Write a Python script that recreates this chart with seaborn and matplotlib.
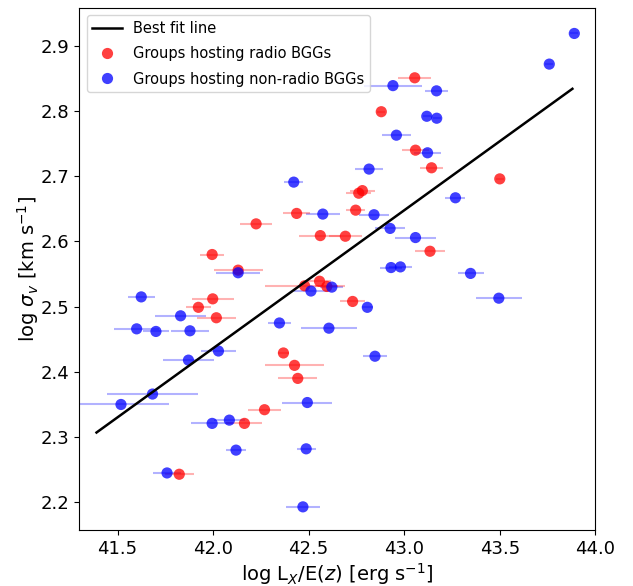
import numpy as np
import pandas as pd
import matplotlib
matplotlib.use("Agg")
import matplotlib.pyplot as plt
import seaborn as sns

# Groups hosting radio BGGs
radio_lx = [43.055, 42.880, 43.059, 43.143, 43.500, 42.781, 42.762, 42.746,
            42.437, 42.225, 42.561, 42.692, 43.135, 41.995, 42.131, 42.557,
            42.595, 42.479, 41.998, 42.730, 41.923, 42.017, 42.368, 42.426,
            42.443, 42.269, 42.164, 41.823]
radio_sig = [2.851, 2.799, 2.740, 2.713, 2.696, 2.678, 2.674, 2.648,
             2.643, 2.627, 2.609, 2.608, 2.585, 2.580, 2.556, 2.539,
             2.531, 2.532, 2.512, 2.508, 2.499, 2.483, 2.429, 2.410,
             2.390, 2.342, 2.321, 2.243]
radio_err = [0.087, 0.02, 0.070, 0.060, 0.02, 0.065, 0.065, 0.050,
             0.070, 0.082, 0.110, 0.087, 0.079, 0.061, 0.128, 0.06,
             0.06, 0.210, 0.110, 0.064, 0.067, 0.103, 0.030, 0.155,
             0.103, 0.084, 0.094, 0.075]

# Groups hosting non-radio BGGs
nonradio_lx = [43.890, 43.759, 42.941, 43.169, 43.118, 43.170, 42.959, 43.122,
               42.816, 42.422, 43.268, 42.574, 42.842, 42.926, 43.059, 42.931,
               42.980, 42.131, 43.347, 42.621, 42.512, 41.624, 43.495, 42.807,
               41.830, 42.347, 41.600, 42.606, 41.879, 41.701, 42.028, 42.847,
               41.871, 41.683, 42.493, 41.518, 42.085, 41.995, 42.120, 42.487,
               41.759, 42.470]
nonradio_sig = [2.919, 2.872, 2.839, 2.831, 2.792, 2.789, 2.763, 2.736,
                2.711, 2.691, 2.667, 2.642, 2.641, 2.620, 2.606, 2.560,
                2.561, 2.552, 2.551, 2.530, 2.524, 2.515, 2.513, 2.499,
                2.486, 2.475, 2.466, 2.467, 2.463, 2.462, 2.432, 2.424,
                2.418, 2.366, 2.353, 2.350, 2.326, 2.321, 2.280, 2.282,
                2.245, 2.193]
nonradio_err = [0.02, 0.02, 0.152, 0.058, 0.02, 0.02, 0.075, 0.073,
                0.074, 0.050, 0.052, 0.090, 0.080, 0.080, 0.107, 0.06,
                0.06, 0.114, 0.068, 0.06, 0.090, 0.070, 0.122, 0.030,
                0.135, 0.060, 0.117, 0.147, 0.100, 0.070, 0.093, 0.063,
                0.135, 0.236, 0.130, 0.250, 0.08, 0.110, 0.050, 0.050,
                0.075, 0.089]

# best fit line
fit_slope = 0.2117
fit_intercept = 2.307 - 0.2117 * 41.39
fit_range = [41.39, 43.88]

df = pd.concat([
    pd.DataFrame({"lx": radio_lx, "sig": radio_sig, "err": radio_err,
                  "grp": "Groups hosting radio BGGs"}),
    pd.DataFrame({"lx": nonradio_lx, "sig": nonradio_sig, "err": nonradio_err,
                  "grp": "Groups hosting non-radio BGGs"}),
])
colors = {"Groups hosting radio BGGs": "red",
          "Groups hosting non-radio BGGs": "blue"}

fig, ax = plt.subplots(figsize=(6.33, 5.86), dpi=100)
fig.subplots_adjust(left=0.1253, right=0.9405, top=0.9863, bottom=0.095)

for g, sub in df.groupby("grp"):
    ax.errorbar(sub["lx"], sub["sig"], xerr=sub["err"], fmt="none",
                ecolor=colors[g], alpha=0.3, lw=1.5, zorder=1)

fx = np.array(fit_range)
ax.plot(fx, fit_intercept + fit_slope * fx, color="black", lw=1.8,
        label="Best fit line", zorder=3)

sns.scatterplot(data=df, x="lx", y="sig", hue="grp", palette=colors,
                hue_order=list(colors), s=65, alpha=0.75, linewidth=0,
                ax=ax, zorder=2)

ax.set_xlim(41.3, 44.0)
ax.set_ylim(2.157, 2.958)
ax.tick_params(labelsize=13)
ax.set_xlabel(r"log L$_X$/E($z$) [erg s$^{-1}$]", fontsize=14, labelpad=2)
ax.set_ylabel(r"log $\sigma_v$ [km s$^{-1}$]", fontsize=14, labelpad=0)
ax.legend(loc="upper left", fontsize=10.5, labelspacing=0.7)

plt.savefig("out.png")
